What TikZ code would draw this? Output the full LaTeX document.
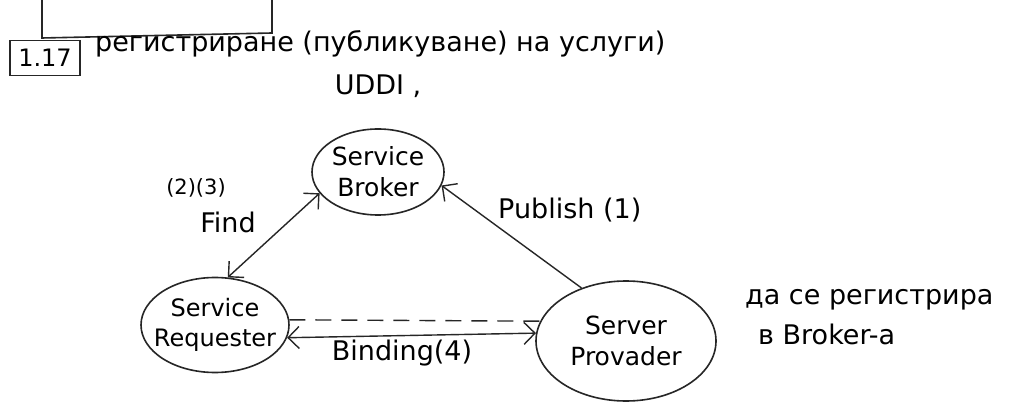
\documentclass[tikz,border=0pt]{standalone}
\usepackage{fontspec}
\setmainfont{DejaVu Sans}
\usetikzlibrary{shapes.geometric,arrows.meta}
\begin{document}
\begin{tikzpicture}[x=1pt,y=-1pt,
  ink/.style={line width=1.6pt,draw=black!85},
  hand/.style={font=\fontsize{27}{32}\selectfont,inner sep=0pt},
  small/.style={font=\fontsize{21}{24}\selectfont,inner sep=0pt},
  svc/.style={ellipse,ink,inner sep=-12pt,align=center,font=\fontsize{25}{31}\selectfont},
  barb/.tip={Straight Barb[length=11pt,width=22pt]},
  conn/.style={ink,line width=1.4pt}]
\useasboundingbox (0,0) rectangle (1024,419);
\fill[white] (0,0) rectangle (1024,419);
% partial box from previous item
\draw[ink] (42,0) -- (42,38) -- (272,33) -- (272,0);
% item number
\node[ink,minimum width=70,minimum height=35,inner sep=0pt,font=\fontsize{24}{28}\selectfont] (num) at (45,58) {1.17};
\node[hand,anchor=west] (title) at (95,44) {регистриране (публикуване) на услуги)};
\node[hand] (uddi) at (378,86) {UDDI ,};
% services
\node[svc,minimum width=132,minimum height=86] (broker) at (378,172) {Service\\Broker};
\node[svc,minimum width=148,minimum height=95,font=\fontsize{24}{30}\selectfont] (req) at (215,325) {Service\\Requester};
\node[svc,minimum width=180,minimum height=120] (prov) at (626,341) {Server\\Provader};
% connectors
\draw[conn,barb-barb] (broker.200) -- (req.75);
\node[small] (n23) at (196,188) {(2)(3)};
\node[hand] (find) at (228,222) {Find};
\draw[conn,-barb] (prov.130) -- (broker.-12);
\node[hand,anchor=west] (pub) at (498,210) {Publish (1)};
\draw[conn,dashed,dash pattern=on 16pt off 10pt] (req.4) -- (prov.167);
\draw[conn,barb-barb] (req.-10) -- (prov.175);
\node[hand] (bind) at (402,353) {Binding(4)};
% note
\node[hand,anchor=west] (note1) at (745,300) {да се регистрира};
\node[hand,anchor=west] (note2) at (758,334) {в Broker-а};
\end{tikzpicture}
\end{document}
